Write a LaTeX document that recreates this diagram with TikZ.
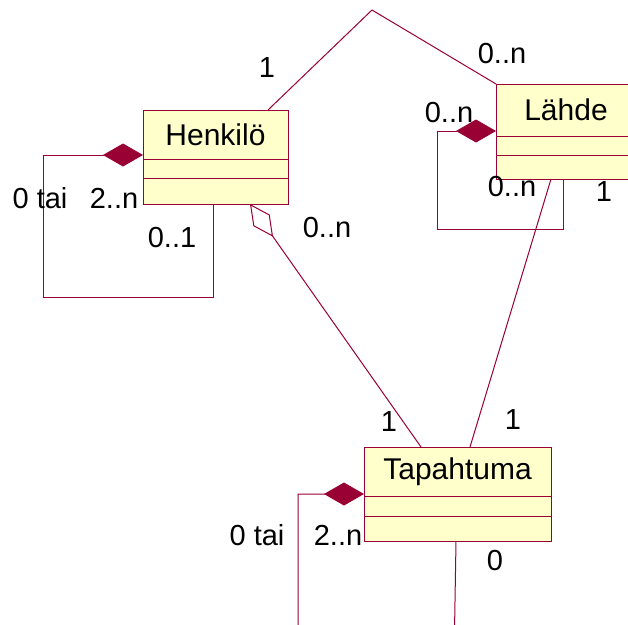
\documentclass[tikz,border=0pt]{standalone}
\usepackage{fontspec}
\setmainfont{Liberation Sans}
\usetikzlibrary{positioning,arrows.meta}

\definecolor{umlred}{HTML}{990033}
\definecolor{umlfill}{HTML}{FFFFCC}

\begin{document}
\begin{tikzpicture}[x=1pt,y=-1pt,
				classname/.style={rectangle,draw=umlred,fill=umlfill,line width=1pt,
					inner sep=0pt,outer sep=0pt,font=\fontsize{30}{36}\selectfont},
				compartment/.style={rectangle,draw=umlred,fill=umlfill,line width=1pt,
					inner sep=0pt,outer sep=0pt},
				assoc/.style={draw=umlred,line width=1pt},
				aggr/.style={assoc,-{Diamond[length=40pt,width=23pt,fill=umlred]}},
				shared/.style={assoc,-{Diamond[open,length=40pt,width=20pt,fill=white]}},
				mult/.style={inner sep=0pt,font=\fontsize{29}{34}\selectfont}]
	\useasboundingbox (0,0) rectangle (628,624);
	% classes
	\node[classname,minimum width=145pt,minimum height=49pt] (henkilo) at (215.5,134.5) {Henkilö};
	\node[compartment,minimum width=145pt,minimum height=19pt,below=0pt of henkilo] (henkiloA) {};
	\node[compartment,minimum width=145pt,minimum height=26pt,below=0pt of henkiloA] (henkiloO) {};
	\node[classname,minimum width=140pt,minimum height=52pt] (lahde) at (566,110) {Lähde};
	\node[compartment,minimum width=140pt,minimum height=19pt,below=0pt of lahde] (lahdeA) {};
	\node[compartment,minimum width=140pt,minimum height=24pt,below=0pt of lahdeA] (lahdeO) {};
	\node[classname,minimum width=187pt,minimum height=49pt] (tapahtuma) at (457.5,471.5) {Tapahtuma};
	\node[compartment,minimum width=187pt,minimum height=20pt,below=0pt of tapahtuma] (tapahtumaA) {};
	\node[compartment,minimum width=187pt,minimum height=25pt,below=0pt of tapahtumaA] (tapahtumaO) {};
	\coordinate (apex) at (372,10);
	% associations
	\draw[assoc] ([xshift=125pt]henkilo.north west) -- (apex) -- (lahde.north west);
	\draw[shared] ([xshift=57pt]tapahtuma.north west) -- ([xshift=107pt]henkiloO.south west);
	\draw[assoc] ([xshift=55pt]lahdeO.south west) -- ([xshift=106pt]tapahtuma.north west);
	% self aggregations
	\draw[aggr] ([xshift=70pt]henkiloO.south west) -- ++(0,93) -- ++(-170,0) |- ([yshift=4pt]henkilo.south west);
	\draw[aggr] ([xshift=67pt]lahdeO.south west) -- ++(0,50) -- ++(-126,0) |- ([yshift=5pt]lahde.south west);
	\draw[aggr] ([xshift=92pt]tapahtumaO.south west) -- ++(-2,120) -- ++(-156,0) |- ([yshift=2pt]tapahtuma.south west);
	% multiplicities
	\node[mult] (m1) at (267,68) {1};
	\node[mult] (m2) at (502,54) {0..n};
	\node[mult] (m3) at (40,198) {0 tai};
	\node[mult] (m4) at (114,198) {2..n};
	\node[mult] (m5) at (172,238) {0..1};
	\node[mult] (m6) at (327,228) {0..n};
	\node[mult] (m7) at (449,113) {0..n};
	\node[mult] (m8) at (512,187) {0..n};
	\node[mult] (m9) at (604,192) {1};
	\node[mult] (m10) at (389,422) {1};
	\node[mult] (m11) at (513,420) {1};
	\node[mult] (m12) at (257,535) {0 tai};
	\node[mult] (m13) at (338,535) {2..n};
	\node[mult] (m14) at (495,561) {0};
\end{tikzpicture}
\end{document}
